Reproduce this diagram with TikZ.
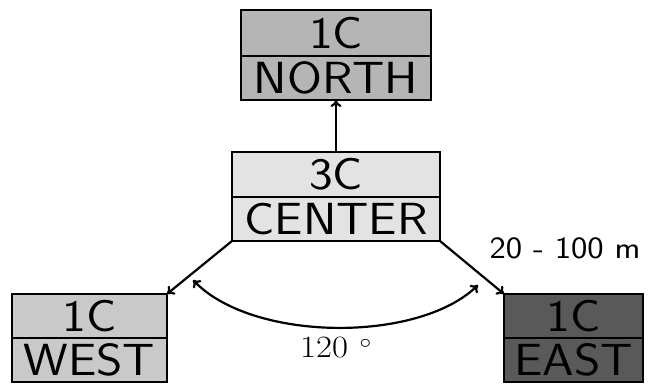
\documentclass[tikz,border=0pt]{standalone}
\usetikzlibrary{arrows.meta}
\newcommand{\wide}[1]{\scalebox{1.12}[1]{#1}}
\begin{document}
\begin{tikzpicture}[x=1pt,y=-1pt,
  cell/.style={draw=black, line width=2.2pt, inner sep=0pt, outer sep=0pt, anchor=north,
    font=\sffamily\fontsize{45}{45}\selectfont},
  conn/.style={line width=2.2pt, -{To[length=7pt,width=11pt]}},
  lbl/.style={inner sep=0pt}]
\useasboundingbox (0,0) rectangle (648,385);
% north
\node[cell, fill=gray!58, minimum width=190pt, minimum height=46pt] (n1) at (336,10) {\wide{1C}};
\node[cell, fill=gray!58, minimum width=190pt, minimum height=44pt] (n2) at (n1.south) {\wide{NORTH}};
% center
\node[cell, fill=gray!22, minimum width=208pt, minimum height=45pt] (c1) at (336,152) {\wide{3C}};
\node[cell, fill=gray!22, minimum width=208pt, minimum height=44pt] (c2) at (c1.south) {\wide{CENTER}};
% west
\node[cell, fill=gray!42, minimum width=155pt, minimum height=44pt] (w1) at (89.5,294) {\wide{1C}};
\node[cell, fill=gray!42, minimum width=155pt, minimum height=44pt] (w2) at (w1.south) {\wide{WEST}};
% east
\node[cell, fill=black!65, minimum width=139pt, minimum height=44pt] (e1) at (573.5,294) {\wide{1C}};
\node[cell, fill=black!65, minimum width=139pt, minimum height=44pt] (e2) at (e1.south) {\wide{EAST}};
% connectors
\draw[conn] (c1.north) -- (n2.south);
\draw[conn] (c2.south west) -- (w1.north east);
\draw[conn] (c2.south east) -- (e1.north west);
% angle arc
\coordinate (a1) at (193,280);
\coordinate (a2) at (478,285);
\draw[line width=2.2pt, {To[length=7pt,width=11pt]}-{To[length=7pt,width=11pt]}]
  (a1) .. controls (253,342) and (418,343) .. (a2);
\node[lbl, font=\fontsize{31}{31}\selectfont] (ang) at (336,348) {\wide{120\,\,$^\circ$}};
\node[lbl, font=\sffamily\fontsize{31}{31}\selectfont] (dist) at (565,248) {\wide{20 - 100 m}};
\end{tikzpicture}
\end{document}
